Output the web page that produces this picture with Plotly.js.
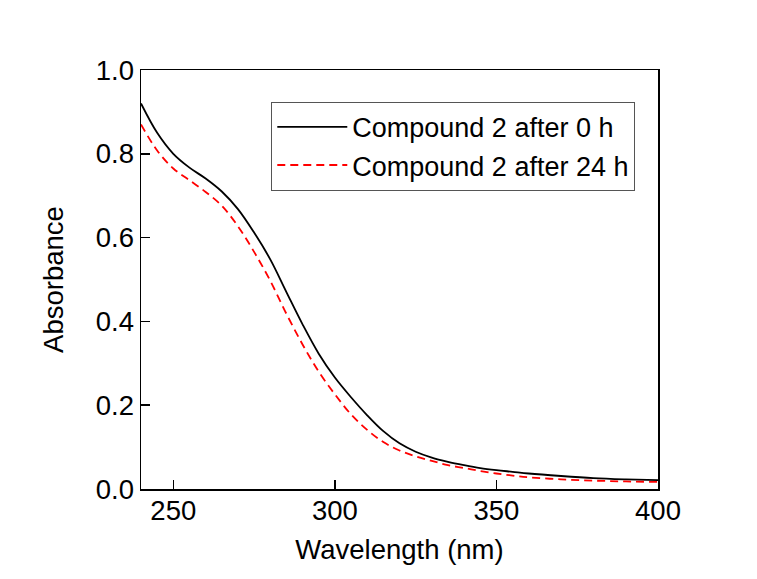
<!DOCTYPE html>
<html>
<head>
<meta charset="utf-8">
<script src="https://cdn.plot.ly/plotly-3.0.1.min.js"></script>
<style>html,body{margin:0;padding:0;background:#fff;}#chart{width:757px;height:579px;}</style>
</head>
<body>
<div id="chart"></div>
<script>
var wavelength0 = [240,245,250,255,260,265,270,275,280,285,290,295,300,305,310,315,320,325,330,335,340,345,350,355,360,370,380,390,400];
var absorb0 = [0.920,0.850,0.800,0.767,0.741,0.710,0.668,0.612,0.548,0.470,0.393,0.323,0.266,0.219,0.176,0.138,0.109,0.089,0.075,0.065,0.057,0.050,0.045,0.041,0.037,0.031,0.026,0.023,0.021];
var wavelength24 = [240,245,250,255,260,265,270,275,280,285,290,295,300,305,310,315,320,325,330,335,340,345,350,355,360,370,380,390,400];
var absorb24 = [0.870,0.808,0.765,0.737,0.709,0.676,0.627,0.566,0.497,0.418,0.345,0.280,0.226,0.178,0.141,0.112,0.092,0.078,0.067,0.057,0.050,0.043,0.037,0.032,0.028,0.023,0.020,0.018,0.017];
var seriesNames = ["Compound 2 after 0 h", "Compound 2 after 24 h"];
var xTicks = [250,300,350,400];
var yTicks = [0.0,0.2,0.4,0.6,0.8,1.0];

var font = {family: "Liberation Sans, Arial, sans-serif", size: 27.5, color: "#000"};
var traces = [
  {x: wavelength0, y: absorb0, name: seriesNames[0], type: "scatter", mode: "lines",
   line: {color: "#000000", width: 1.8, shape: "spline", smoothing: 1}},
  {x: wavelength24, y: absorb24, name: seriesNames[1], type: "scatter", mode: "lines",
   line: {color: "#ff0000", width: 1.8, dash: "8px,5px", shape: "spline", smoothing: 1}}
];
var layout = {
  width: 757, height: 579,
  margin: {l: 141, r: 99, t: 70, b: 90, pad: 0},
  paper_bgcolor: "#fff", plot_bgcolor: "#fff",
  font: font,
  showlegend: true,
  legend: {x: 0.252, y: 0.924, xanchor: "left", yanchor: "top",
           bgcolor: "#fff", bordercolor: "#555", borderwidth: 1,
           font: {family: font.family, size: 27, color: "#000"},
           itemwidth: 70, tracegroupgap: 0},
  xaxis: {range: [240, 400], tickvals: xTicks, ticktext: xTicks.map(String),
          ticks: "inside", ticklen: 9, tickwidth: 1.5, tickcolor: "#000",
          showline: true, linecolor: "#000", linewidth: 1.5, mirror: true,
          showgrid: false, zeroline: false, ticklabelstandoff: -4,
          tickfont: font,
          title: {text: "Wavelength (nm)", font: font, standoff: 15}},
  yaxis: {range: [0, 1.0], tickvals: yTicks, ticktext: yTicks.map(function(v){return v.toFixed(1);}),
          ticks: "inside", ticklen: 9, tickwidth: 1.5, tickcolor: "#000",
          showline: true, linecolor: "#000", linewidth: 1.5, mirror: true,
          showgrid: false, zeroline: false,
          tickfont: font,
          title: {text: "Absorbance", font: font, standoff: 24}}
};
Plotly.newPlot("chart", traces, layout, {displayModeBar: false, staticPlot: true});
</script>
</body>
</html>
